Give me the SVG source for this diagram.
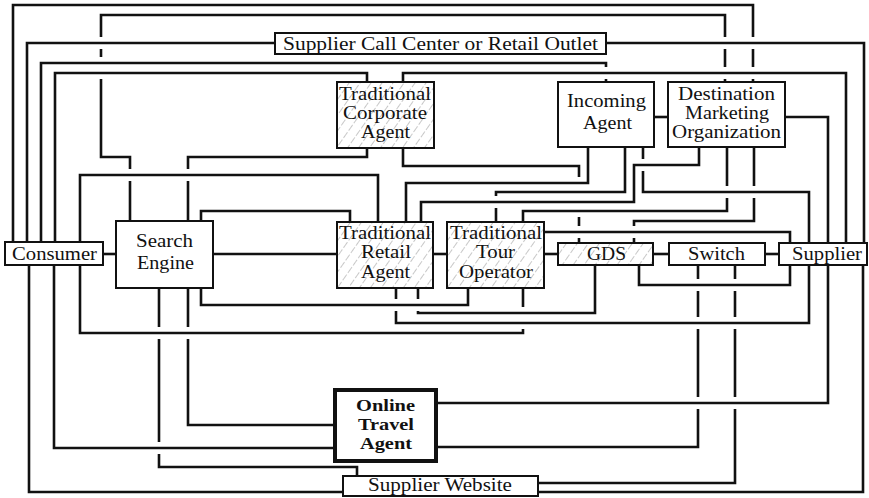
<svg xmlns="http://www.w3.org/2000/svg" width="869" height="498" viewBox="0 0 869 498">
  <style>
    .c { fill: none; stroke: #111; stroke-width: 2.6; stroke-linecap: butt; stroke-linejoin: miter; }
    .box { fill: #fff; stroke: #111; stroke-width: 2; }
    .hatch { fill: url(#hatch); stroke: #111; stroke-width: 2; }
    .ota { fill: #fff; stroke: #111; stroke-width: 4; }
    text { font-family: "Liberation Serif", "Times New Roman", serif; font-size: 18px; fill: #111; }
    .b { font-weight: bold; font-size: 16px; }
  </style>
  <defs>
    <pattern id="hatch" patternUnits="userSpaceOnUse" width="9" height="9" patternTransform="rotate(35)">
      <line x1="0" y1="0" x2="0" y2="9" stroke="#9a9a9a" stroke-width="1.1" stroke-dasharray="6 2"/>
    </pattern>
  </defs>
  <rect width="869" height="498" fill="#fff"/>

  <!-- connectors: breaks in a line mark where it passes under another -->
  <g id="connectors">
    <!-- upper routes -->
    <path class="c" d="M13,242 V5 H753 V37 M753,49 V67 M753,79 V82"/>
    <path class="c" d="M130,221 V181 M130,169 V157 H101 V79 M101,57 V49 M101,37 V15 H725 V37 M725,49 V67 M725,79 V82"/>
    <path class="c" d="M27,242 V43 H275"/>
    <path class="c" d="M606,43 H864 V243"/>
    <path class="c" d="M41,242 V63 H606 V67 M606,79 V82"/>
    <path class="c" d="M55,242 V73 H367 V82"/>
    <path class="c" d="M403,82 V73 H846 V243"/>
    <path class="c" d="M785,117 H828 V243"/>
    <path class="c" d="M654,117 H668"/>
    <path class="c" d="M367,148 V157 H188 V169 M188,181 V221"/>
    <path class="c" d="M403,148 V166 H579 V177 M579,217 V226 M579,238 V243"/>
    <path class="c" d="M80,242 V175 H378 V222"/>
    <path class="c" d="M201,221 V211 H350 V222"/>
    <path class="c" d="M588,147 V183 H406 V222"/>
    <path class="c" d="M699,147 V165 H634 V202 H421 V222"/>
    <path class="c" d="M625,147 V192 H496 V196 M496,208 V222"/>
    <path class="c" d="M643,147 V159 M643,171 V192 H809 V243"/>
    <path class="c" d="M727,147 V186 M727,198 V211 H523 V222"/>
    <path class="c" d="M754,147 V186 M754,198 V221 H634 V226 M634,238 V243"/>
    <path class="c" d="M544,232 H790 V243"/>
    <!-- middle row -->
    <path class="c" d="M103,254 H116"/>
    <path class="c" d="M213,254 H337"/>
    <path class="c" d="M433,254 H447"/>
    <path class="c" d="M544,254 H558"/>
    <path class="c" d="M653,254 H669"/>
    <path class="c" d="M765,254 H779"/>
    <!-- lower routes -->
    <path class="c" d="M201,288 V305 H468 V288"/>
    <path class="c" d="M396,288 V299 M396,311 V323 H809 V265"/>
    <path class="c" d="M418,288 V299 M418,311 V313 H595 V265"/>
    <path class="c" d="M523,288 V307 M523,329 V333 H80 V265"/>
    <path class="c" d="M639,265 V285 H790 V265"/>
    <path class="c" d="M159,288 V327 M159,339 V442 M159,454 V467 H357 V476"/>
    <path class="c" d="M188,288 V327 M188,339 V425 H335"/>
    <path class="c" d="M54,265 V448 H335"/>
    <path class="c" d="M29,265 V492 H343"/>
    <path class="c" d="M436,403 H828 V265"/>
    <path class="c" d="M436,447 H698 V409 M698,397 V329 M698,317 V291 M698,279 V265"/>
    <path class="c" d="M538,483 H735 V409 M735,397 V329 M735,317 V291 M735,279 V265"/>
    <path class="c" d="M538,492 H863 V265"/>
  </g>

  <g id="call-center">
    <rect class="box" x="275" y="33" width="331" height="21"/>
    <text x="283" y="50" textLength="315" lengthAdjust="spacingAndGlyphs">Supplier Call Center or Retail Outlet</text>
  </g>
  <g id="consumer">
    <rect class="box" x="5" y="242" width="98" height="23"/>
    <text x="12" y="260" textLength="85" lengthAdjust="spacingAndGlyphs">Consumer</text>
  </g>
  <g id="search-engine">
    <rect class="box" x="116" y="221" width="97" height="67"/>
    <text x="136" y="247" textLength="57" lengthAdjust="spacingAndGlyphs">Search</text>
    <text x="137" y="269" textLength="57" lengthAdjust="spacingAndGlyphs">Engine</text>
  </g>
  <g id="corporate-agent">
    <rect class="box" x="337" y="82" width="97" height="66"/>
    <rect class="hatch" x="337" y="82" width="97" height="66"/>
    <text x="339" y="100" textLength="92" lengthAdjust="spacingAndGlyphs">Traditional</text>
    <text x="343" y="119" textLength="84" lengthAdjust="spacingAndGlyphs">Corporate</text>
    <text x="361" y="138" textLength="49" lengthAdjust="spacingAndGlyphs">Agent</text>
  </g>
  <g id="incoming-agent">
    <rect class="box" x="558" y="82" width="96" height="65"/>
    <text x="567" y="107" textLength="79" lengthAdjust="spacingAndGlyphs">Incoming</text>
    <text x="583" y="129" textLength="49" lengthAdjust="spacingAndGlyphs">Agent</text>
  </g>
  <g id="dmo">
    <rect class="box" x="668" y="82" width="117" height="65"/>
    <text x="678" y="100" textLength="97" lengthAdjust="spacingAndGlyphs">Destination</text>
    <text x="685" y="119" textLength="84" lengthAdjust="spacingAndGlyphs">Marketing</text>
    <text x="672" y="138" textLength="109" lengthAdjust="spacingAndGlyphs">Organization</text>
  </g>
  <g id="retail-agent">
    <rect class="box" x="337" y="222" width="96" height="66"/>
    <rect class="hatch" x="337" y="222" width="96" height="66"/>
    <text x="339" y="239" textLength="92" lengthAdjust="spacingAndGlyphs">Traditional</text>
    <text x="361" y="258" textLength="50" lengthAdjust="spacingAndGlyphs">Retail</text>
    <text x="361" y="278" textLength="49" lengthAdjust="spacingAndGlyphs">Agent</text>
  </g>
  <g id="tour-operator">
    <rect class="box" x="447" y="222" width="97" height="66"/>
    <rect class="hatch" x="447" y="222" width="97" height="66"/>
    <text x="450" y="239" textLength="92" lengthAdjust="spacingAndGlyphs">Traditional</text>
    <text x="476" y="258" textLength="39" lengthAdjust="spacingAndGlyphs">Tour</text>
    <text x="459" y="278" textLength="74" lengthAdjust="spacingAndGlyphs">Operator</text>
  </g>
  <g id="gds">
    <rect class="box" x="558" y="243" width="95" height="22"/>
    <rect class="hatch" x="558" y="243" width="95" height="22"/>
    <text x="587" y="259.5" textLength="39" lengthAdjust="spacingAndGlyphs">GDS</text>
  </g>
  <g id="switch">
    <rect class="box" x="669" y="243" width="96" height="22"/>
    <text x="688" y="259.5" textLength="57" lengthAdjust="spacingAndGlyphs">Switch</text>
  </g>
  <g id="supplier">
    <rect class="box" x="779" y="243" width="88" height="22"/>
    <text x="792" y="259.5" textLength="70" lengthAdjust="spacingAndGlyphs">Supplier</text>
  </g>
  <g id="online-travel-agent">
    <rect class="ota" x="335" y="390" width="101" height="71"/>
    <text class="b" x="356" y="411" textLength="59" lengthAdjust="spacingAndGlyphs">Online</text>
    <text class="b" x="358" y="430" textLength="56" lengthAdjust="spacingAndGlyphs">Travel</text>
    <text class="b" x="360" y="449" textLength="52" lengthAdjust="spacingAndGlyphs">Agent</text>
  </g>
  <g id="supplier-website">
    <rect class="box" x="343" y="476" width="195" height="20"/>
    <text x="368" y="491" textLength="144" lengthAdjust="spacingAndGlyphs">Supplier Website</text>
  </g>
</svg>
